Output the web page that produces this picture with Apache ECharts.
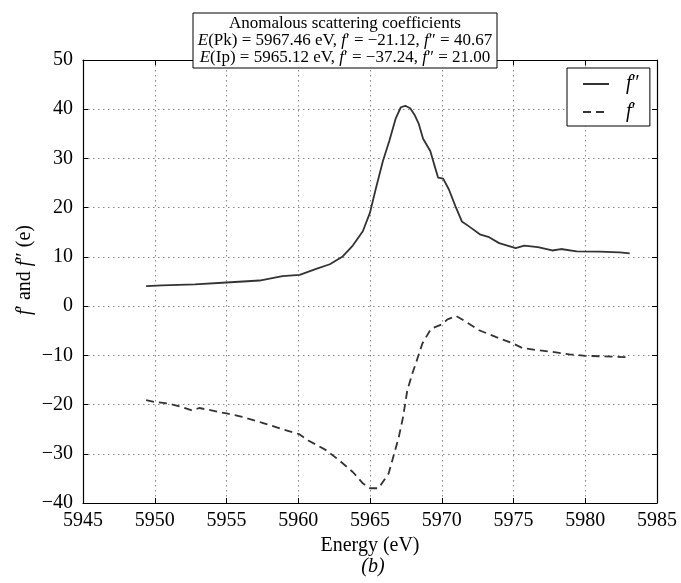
<!DOCTYPE html>
<html>
<head>
<meta charset="utf-8">
<script src="https://cdn.jsdelivr.net/npm/echarts@6/dist/echarts.min.js"></script>
<style>html,body{margin:0;padding:0;background:#fff;}#c{width:681px;height:583px;}</style>
</head>
<body>
<div id="c"></div>
<script>
// f'' (solid)
const fppEnergy = [5949.4,5950.5,5952.8,5955.0,5957.3,5958.9,5960.1,5961.2,5962.2,5963.1,5963.8,5964.5,5965.0,5965.4,5965.9,5966.35,5966.8,5967.15,5967.46,5967.8,5968.1,5968.4,5968.7,5969.2,5969.45,5969.75,5970.1,5970.5,5970.95,5971.4,5971.9,5972.7,5973.3,5974.0,5975.15,5975.75,5976.7,5977.7,5978.3,5979.4,5981.0,5982.4,5983.1];
const fppValues = [4.05,4.2,4.4,4.8,5.2,6.1,6.35,7.5,8.5,10.1,12.3,15.2,19.0,23.8,29.5,33.6,38.2,40.4,40.7,40.2,38.9,37.0,34.0,31.5,29.0,26.1,25.9,23.7,20.3,17.2,16.2,14.5,14.0,12.8,11.8,12.3,12.0,11.3,11.6,11.1,11.05,10.9,10.7];
// f' (dashed)
const fpEnergy = [5949.4,5950.05,5951.0,5951.9,5952.6,5953.1,5953.8,5955.0,5956.1,5957.5,5958.9,5960.05,5960.7,5961.9,5962.85,5963.8,5964.5,5965.0,5965.6,5966.3,5967.0,5967.3,5967.6,5967.95,5968.3,5968.65,5969.25,5970.0,5970.4,5971.0,5971.7,5972.6,5973.8,5974.9,5975.6,5976.8,5977.7,5978.9,5980.0,5981.2,5982.1,5983.1];
const fpValues = [-19.1,-19.5,-19.8,-20.5,-21.2,-20.7,-21.1,-21.8,-22.5,-23.7,-25.0,-26.0,-27.3,-29.2,-31.3,-33.7,-36.0,-37.0,-37.0,-34.0,-26.7,-22.6,-17.1,-13.7,-10.7,-7.6,-4.6,-3.7,-2.7,-2.0,-3.2,-4.9,-6.3,-7.5,-8.5,-9.0,-9.3,-9.8,-10.1,-10.2,-10.3,-10.4];
const xTicks = {min:5945, max:5985, interval:5};
const yTicks = {min:-40, max:50, interval:10};
const titleLines = [
  'Anomalous scattering coefficients',
  '{i|E}(Pk) = 5967.46 eV, {i|f}\u2032 = \u221221.12, {i|f}\u2033 = 40.67',
  '{i|E}(Ip) = 5965.12 eV, {i|f}\u2032 = \u221237.24, {i|f}\u2033 = 21.00'
];

const FONT = 'Liberation Serif';
const chart = echarts.init(document.getElementById('c'), null, {renderer:'canvas'});
const pair = (xs, ys) => xs.map((x,i)=>[x, ys[i]]);
const minusFmt = v => v < 0 ? '\u2212' + Math.abs(v) : String(v);
const grey = '#333';
const baseX = {
  type:'value', min:xTicks.min, max:xTicks.max, interval:xTicks.interval,
  axisLine:{show:true, onZero:false, lineStyle:{color:'#000', width:1.2}},
  axisTick:{show:true, inside:true, length:5, lineStyle:{color:'#000'}},
};
const baseY = {
  type:'value', min:yTicks.min, max:yTicks.max, interval:yTicks.interval,
  axisLine:{show:true, onZero:false, lineStyle:{color:'#000', width:1.2}},
  axisTick:{show:true, inside:true, length:5, lineStyle:{color:'#000'}},
};
const gridLine = {show:true, lineStyle:{color:'#888', type:[1.5,3.5], width:1}};

const option = {
  animation:false,
  backgroundColor:'#fff',
  grid:{left:83, right:24, top:60, bottom:80, containLabel:false},
  legend:{
    orient:'vertical', left:567, top:68, width:81,
    backgroundColor:'#fff', borderColor:'#000', borderWidth:1,
    padding:[6,10,4,15], itemGap:8, itemWidth:26, itemHeight:14,
    itemStyle:{opacity:0, borderWidth:0},
    data:['fpp','fp'],
    formatter: n => n === 'fpp' ? '{i|f}\u2033' : '{i|f}\u2032',
    textStyle:{fontFamily:FONT, fontSize:20, color:'#000', padding:[0,0,0,12],
      rich:{i:{fontFamily:FONT, fontSize:20, fontStyle:'italic', color:'#000'}}},
    z:10
  },
  xAxis:[
    Object.assign({}, baseX, {
      position:'bottom',
      axisLabel:{color:'#000', fontFamily:FONT, fontSize:20, margin:8, formatter:v=>String(v)},
      splitLine:gridLine,
      name:'Energy (eV)', nameLocation:'middle', nameGap:29,
      nameTextStyle:{color:'#000', fontFamily:FONT, fontSize:20}
    }),
    Object.assign({}, baseX, {position:'top', axisLabel:{show:false}, splitLine:{show:false}})
  ],
  yAxis:[
    Object.assign({}, baseY, {
      position:'left',
      axisLabel:{color:'#000', fontFamily:FONT, fontSize:20, margin:10, formatter:minusFmt},
      splitLine:gridLine
    }),
    Object.assign({}, baseY, {position:'right', axisLabel:{show:false}, splitLine:{show:false}})
  ],
  series:[
    {name:'fpp', type:'line', xAxisIndex:0, yAxisIndex:0, data:pair(fppEnergy, fppValues),
     symbol:'none', smooth:false, lineStyle:{color:grey, width:1.8}, itemStyle:{color:grey}},
    {name:'fp', type:'line', xAxisIndex:0, yAxisIndex:0, data:pair(fpEnergy, fpValues),
     symbol:'none', smooth:false, lineStyle:{color:grey, width:1.8, type:[8,5]}, itemStyle:{color:grey}}
  ],
  graphic:[
    {type:'rect', z:100, shape:{x:193, y:13, width:304, height:55}, style:{fill:'#fff', stroke:'#000', lineWidth:1}},
    ...titleLines.map((t,i)=>({
      type:'text', z:101, x:345, y:24 + i*17,
      style:{text:t, fontFamily:FONT, fontSize:17, fill:'#000', align:'center', verticalAlign:'middle',
        rich:{i:{fontFamily:FONT, fontSize:17, fontStyle:'italic', fill:'#000'}}}
    })),
    {type:'text', z:101, x:25, y:270, rotation:Math.PI/2,
     style:{text:'{i|f}\u2032 and {i|f}\u2033 (e)', fontFamily:FONT, fontSize:20, fill:'#000', align:'center', verticalAlign:'middle',
       rich:{i:{fontFamily:FONT, fontSize:20, fontStyle:'italic', fill:'#000'}}}},
    {type:'text', z:101, x:373, y:567,
     style:{text:'(b)', fontFamily:FONT, fontSize:20, fontStyle:'italic', fill:'#000', align:'center', verticalAlign:'middle'}}
  ]
};
chart.setOption(option);
</script>
</body>
</html>
